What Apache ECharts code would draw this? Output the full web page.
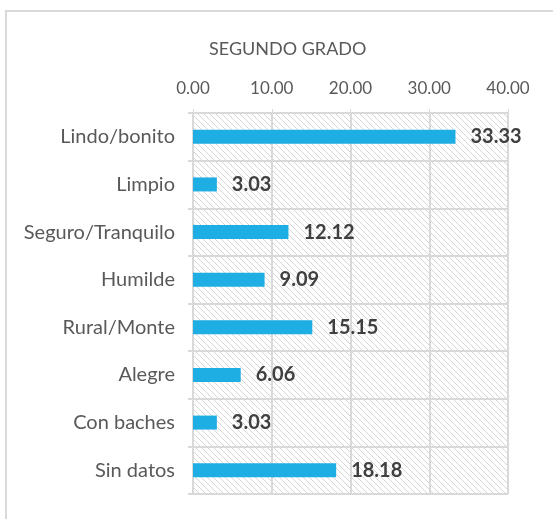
<!DOCTYPE html>
<html>
<head>
<meta charset="utf-8">
<script src="https://cdn.jsdelivr.net/npm/echarts@6/dist/echarts.min.js"></script>
<style>
  html, body { margin: 0; padding: 0; background: #fff; }
  #chart { width: 553px; height: 519px; }
</style>
</head>
<body>
<div id="chart"></div>
<script>
const categories = ["Lindo/bonito", "Limpio", "Seguro/Tranquilo", "Humilde", "Rural/Monte", "Alegre", "Con baches", "Sin datos"];
const values = [33.33, 3.03, 12.12, 9.09, 15.15, 6.06, 3.03, 18.18];
const tickLabels = ["0.00", "10.00", "20.00", "30.00", "40.00"];

// hatch pattern for plot area
const tile = document.createElement("canvas");
tile.width = 6;
tile.height = 6;
const ctx = tile.getContext("2d");
ctx.fillStyle = "#ffffff";
ctx.fillRect(0, 0, 6, 6);
ctx.strokeStyle = "#d6d6d6";
ctx.lineWidth = 1;
ctx.beginPath();
ctx.moveTo(-1, -1);
ctx.lineTo(7, 7);
ctx.moveTo(-1, 5);
ctx.lineTo(1, 7);
ctx.moveTo(5, -1);
ctx.lineTo(7, 1);
ctx.stroke();

const font = "Lato, 'Open Sans', sans-serif";
const myChart = echarts.init(document.getElementById("chart"));
const option = {
  animation: false,
  graphic: [
    {
      type: "rect",
      shape: { x: 6, y: 11, width: 700, height: 700 },
      style: { fill: "none", stroke: "#d9d9d9", lineWidth: 2 },
    },
  ],
  title: {
    text: "SEGUNDO GRADO",
    left: 204,
    top: 35,
    textStyle: { fontFamily: font, fontSize: 18, fontWeight: "normal", color: "#595959" },
  },
  grid: {
    left: 193,
    right: 45,
    top: 113,
    bottom: 25,
    show: true,
    backgroundColor: { image: tile, repeat: "repeat" },
    borderColor: "#d9d9d9",
    borderWidth: 1,
  },
  xAxis: {
    type: "value",
    position: "top",
    min: 0,
    max: 40,
    interval: 10,
    axisLine: { show: false },
    axisTick: { show: true, length: 4, lineStyle: { color: "#d9d9d9" } },
    splitLine: { show: true, lineStyle: { color: "#d9d9d9", width: 2 } },
    axisLabel: {
      fontFamily: font,
      fontSize: 17,
      color: "#595959",
      margin: 16,
      formatter: (v) => tickLabels[Math.round(v / 10)],
    },
  },
  yAxis: {
    type: "category",
    inverse: true,
    data: categories,
    axisLine: { show: true, lineStyle: { color: "#d9d9d9", width: 2 } },
    axisTick: { show: true, length: 5, lineStyle: { color: "#d9d9d9", width: 2 } },
    splitLine: { show: true, lineStyle: { color: "#d9d9d9", width: 2 } },
    axisLabel: { fontFamily: font, fontSize: 20, color: "#595959", margin: 18 },
  },
  series: [
    {
      type: "bar",
      data: values,
      barWidth: 14,
      itemStyle: { color: "#1eaee3" },
      label: {
        show: true,
        position: "right",
        distance: 15,
        fontFamily: font,
        fontSize: 20,
        fontWeight: "bold",
        color: "#404040",
        formatter: (p) => p.value.toFixed(2),
      },
    },
  ],
};
myChart.setOption(option);
</script>
</body>
</html>
